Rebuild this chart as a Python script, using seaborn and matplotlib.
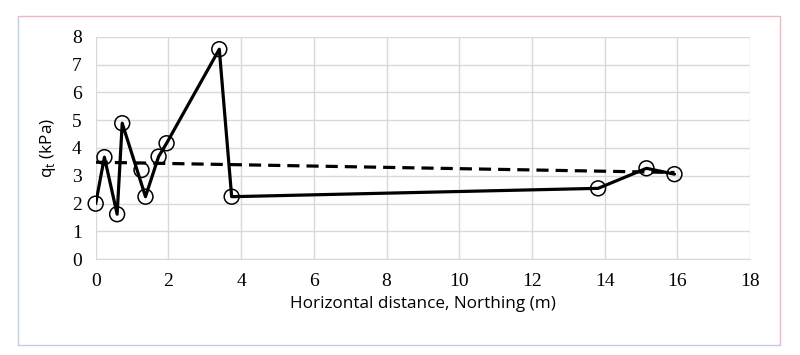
import numpy as np
import pandas as pd
import matplotlib
matplotlib.use("Agg")
import matplotlib.pyplot as plt
import seaborn as sns
from matplotlib.lines import Line2D

sns.set_style("whitegrid")

# veri
x_pts = [0.0, 0.24, 0.59, 0.73, 1.26, 1.37, 1.73, 1.95, 3.40, 3.74, 13.82, 15.15, 15.92]
qt_pts = [2.0, 3.67, 1.62, 4.89, 3.21, 2.25, 3.69, 4.17, 7.55, 2.25, 2.55, 3.27, 3.06]
# cizgi P5 noktasindan gecmiyor
line_idx = [0, 1, 2, 3, 5, 6, 7, 8, 9, 10, 11, 12]
trend_x = [0.0, 15.92]
trend_y = [3.49, 3.12]

xticks = list(range(0, 19, 2))
yticks = list(range(0, 9))

df = pd.DataFrame({"x": x_pts, "qt": qt_pts})
df_line = df.iloc[line_idx]
df_trend = pd.DataFrame({"x": trend_x, "qt": trend_y})

fig = plt.figure(figsize=(8, 3.55), dpi=100)
ax = fig.add_axes([0.1196, 0.2696, 0.818, 0.627])

sns.lineplot(data=df_trend, x="x", y="qt", ax=ax, color="black", lw=2.3,
             linestyle=(0, (3.8, 2.2)), sort=False)
sns.lineplot(data=df_line, x="x", y="qt", ax=ax, color="black", lw=2.3, sort=False)
sns.scatterplot(data=df, x="x", y="qt", ax=ax, s=115, marker="o",
                facecolor="none", edgecolor="black", linewidth=1.1, zorder=5,
                clip_on=False)

ax.set_xlim(0, 18)
ax.set_ylim(0, 8)
ax.set_xticks(xticks)
ax.set_yticks(yticks)
ax.grid(True, color="#d9d9d9", lw=1)
for s in ax.spines.values():
    s.set_visible(False)
ax.spines["bottom"].set_visible(True)
ax.spines["bottom"].set_color("#d9d9d9")
ax.tick_params(length=0, pad=10, labelsize=14, labelcolor="black",
               labelfontfamily="Liberation Serif")

ax.set_xlabel("Horizontal distance, Northing (m)", family="Open Sans", fontsize=12.3,
              color="black", labelpad=4)
ax.set_ylabel("q$_\\mathregular{t}$ (kPa)", family="Open Sans", fontsize=12.3,
              color="black", labelpad=10)

# grafik cercevesi
fig.add_artist(Line2D([0.0225, 0.975], [1 - 16 / 355] * 2, color="#f2b8c0", lw=1))
fig.add_artist(Line2D([0.975] * 2, [1 - 16 / 355, 1 - 345 / 355], color="#f2b8c0", lw=1))
fig.add_artist(Line2D([0.0225] * 2, [1 - 16 / 355, 1 - 345 / 355], color="#c0cde8", lw=1))
fig.add_artist(Line2D([0.0225, 0.975], [1 - 345 / 355] * 2, color="#c0cde8", lw=1))

fig.savefig("out.png", dpi=100)
